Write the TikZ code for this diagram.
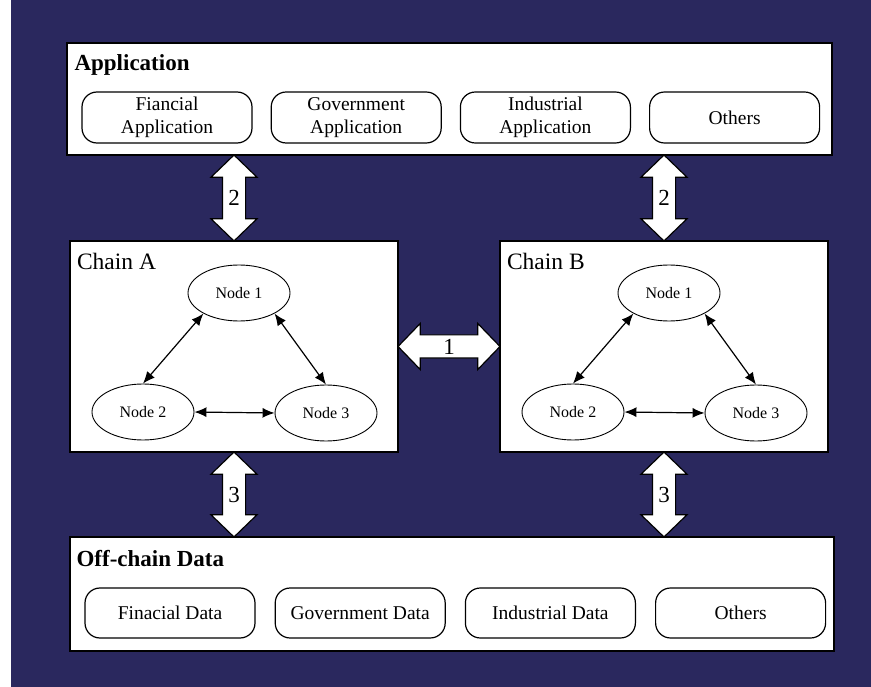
\documentclass[tikz,border=0pt]{standalone}
\usepackage{fontspec}
\setmainfont{Liberation Serif}
\usetikzlibrary{shapes.geometric, shapes.arrows, arrows.meta, positioning, calc}
\definecolor{bgnavy}{RGB}{42,40,94}
\tikzset{
	layerbox/.style={rectangle, draw, fill=white, line width=1.3pt},
	chainbox/.style={rectangle, draw, fill=white, line width=1.3pt,
		minimum width=328pt, minimum height=211pt},
	itembox/.style={rectangle, rounded corners=15pt, draw, line width=1.2pt,
		minimum width=170pt, minimum height=51pt, align=center,
		font=\fontsize{19.5}{23}\selectfont},
	peer/.style={ellipse, draw, line width=0.9pt, minimum width=102pt,
		minimum height=56pt, inner sep=0pt, font=\fontsize{16}{16}\selectfont},
	layertitle/.style={anchor=base west, inner sep=0pt,
		font=\fontsize{23}{23}\selectfont\bfseries},
	chaintitle/.style={anchor=base west, inner sep=0pt,
		font=\fontsize{23.5}{23.5}\selectfont},
	blockarrow/.style={double arrow, draw, fill=white, line width=1.2pt,
		double arrow head extend=11.5pt, double arrow tip angle=92,
		inner sep=0pt, text width=22pt, text height=18.75pt, text depth=3.25pt,
		align=center, font=\fontsize{23}{23}\selectfont},
	linkarrow/.style={{Latex[length=12pt,width=10pt]}-{Latex[length=12pt,width=10pt]},
		line width=1.2pt}
}
\begin{document}
\begin{tikzpicture}[x=1pt, y=-1pt]
	
	%% ---- Background ----
	\fill[bgnavy] (11,0) rectangle (871,687);
	\useasboundingbox (0,0) rectangle (871,687);
	
	%% ---- Layers and chains ----
	\node[layerbox, minimum width=765pt, minimum height=112pt] (app) at (449.5,99) {};
	\node[layerbox, minimum width=764pt, minimum height=114pt] (off) at (452,594) {};
	\node[chainbox] (chA) at (234,346.5) {};
	\node[chainbox] (chB) at (664,346.5) {};
	
	%% ---- Application layer ----
	\node[layertitle] (app-title) at ($(app.north west)+(8,28)$) {Application};
	\node[itembox]                   (a1) at (167,117.5) {Fiancial\\Application};
	\node[itembox, right=18pt of a1] (a2) {Government\\Application};
	\node[itembox, right=18pt of a2] (a3) {Industrial\\Application};
	\node[itembox, right=18pt of a3] (a4) {Others};
	
	%% ---- Off-chain data layer ----
	\node[layertitle] (off-title) at ($(off.north west)+(7,30)$) {Off-chain Data};
	\node[itembox, minimum height=50pt]                   (d1) at (170,613) {Finacial Data};
	\node[itembox, minimum height=50pt, right=19pt of d1] (d2) {Government Data};
	\node[itembox, minimum height=50pt, right=19pt of d2] (d3) {Industrial Data};
	\node[itembox, minimum height=50pt, right=19pt of d3] (d4) {Others};
	
	%% ---- Chains ----
	\foreach \c in {A,B}{
		\node[chaintitle] (ch\c-title) at ($(ch\c.north west)+(7.5,29)$) {Chain \c};
		\node[peer] (\c1) at ($(ch\c)+(5,-53.5)$) {Node 1};
		\node[peer] (\c2) at ($(ch\c)+(-91,65.5)$) {Node 2};
		\node[peer] (\c3) at ($(ch\c)+(92,66.5)$) {Node 3};
		\draw[linkarrow] (\c1.210) -- (\c2.north);
		\draw[linkarrow] (\c1.330) -- (\c3.north);
		\draw[linkarrow] (\c2.east) -- (\c3.west);
	}
	
	%% ---- Block arrows between layers ----
	\node[blockarrow, shape border rotate=90, minimum height=86pt] (l2a)
	at ($(app.south -| chA.north)!0.5!(chA.north)$) {2};
	\node[blockarrow, shape border rotate=90, minimum height=86pt] (l2b)
	at ($(app.south -| chB.north)!0.5!(chB.north)$) {2};
	\node[blockarrow, minimum height=102pt] (l1)
	at ($(chA.east)!0.5!(chB.west)$) {1};
	\node[blockarrow, shape border rotate=90, minimum height=85pt] (l3a)
	at ($(chA.south)!0.5!(off.north -| chA.south)$) {3};
	\node[blockarrow, shape border rotate=90, minimum height=85pt] (l3b)
	at ($(chB.south)!0.5!(off.north -| chB.south)$) {3};
	
\end{tikzpicture}
\end{document}
